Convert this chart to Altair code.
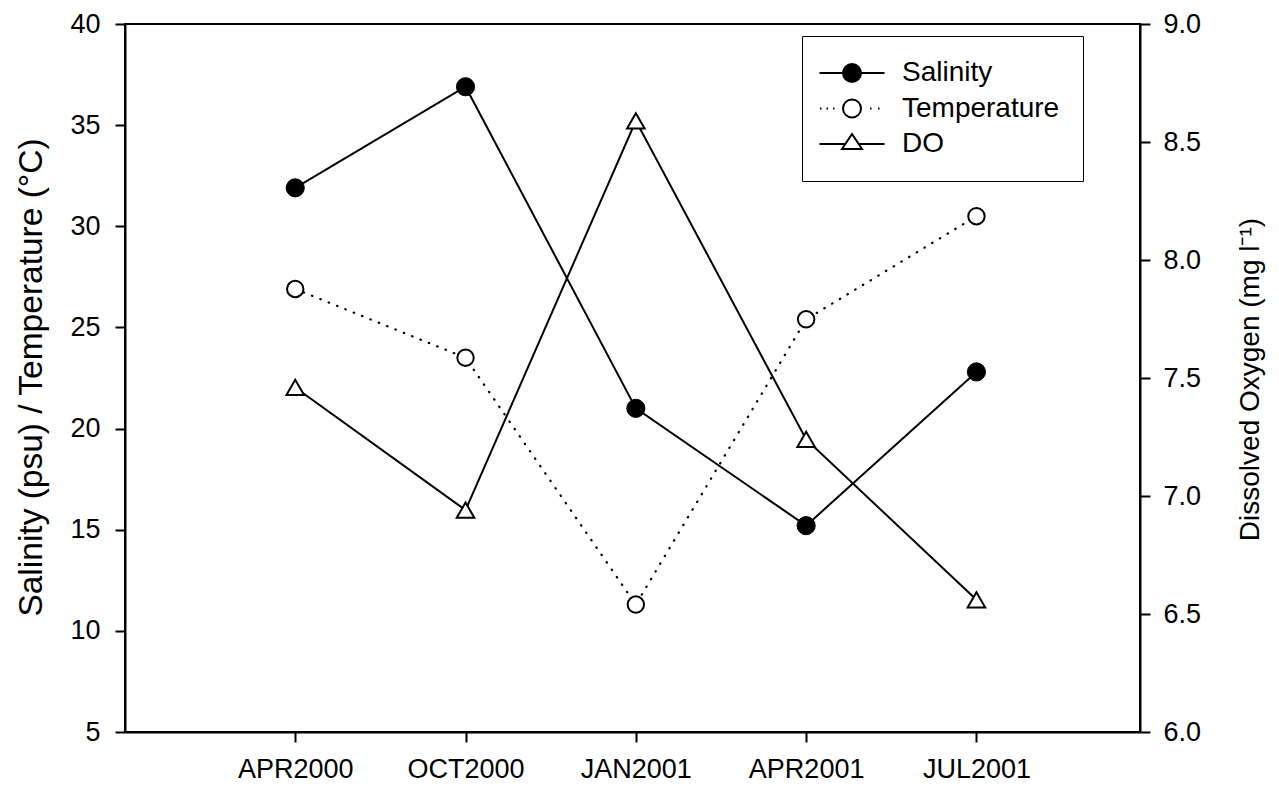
import altair as alt
import pandas as pd

# ---- data ----
categories = ["APR2000", "OCT2000", "JAN2001", "APR2001", "JUL2001"]
salinity = [31.9, 36.9, 21.0, 15.2, 22.8]
temperature = [26.9, 23.5, 11.3, 25.4, 30.5]
dissolved_oxygen = [7.46, 6.94, 8.59, 7.24, 6.56]
series_names = ["Salinity", "Temperature", "DO"]
left_ticks = [5, 10, 15, 20, 25, 30, 35, 40]
right_ticks = [6.0, 6.5, 7.0, 7.5, 8.0, 8.5, 9.0]

FONT = "Liberation Sans"

sal_df = pd.DataFrame({"month": categories, "value": salinity, "series": "Salinity"})
tmp_df = pd.DataFrame({"month": categories, "value": temperature, "series": "Temperature"})
do_df = pd.DataFrame({"month": categories, "value": dissolved_oxygen, "series": "DO"})
legend_df = pd.concat([sal_df, tmp_df], ignore_index=True).iloc[[0, 5, 1]].copy()
legend_df["series"] = series_names

# legend symbols: line through marker (custom SVG paths, unit = sqrt(size)/2 px),
# shifted right so the long symbol sits inside the legend box
SHIFT = 1.3


def sx(v):
    return f"{v + SHIFT:.3f}"


circle = (f"M{sx(-0.9)},0A0.9,0.9,0,1,0,{sx(0.9)},0"
          f"A0.9,0.9,0,1,0,{sx(-0.9)},0Z")
sym_sal = f"M{sx(-3.25)},0L{sx(-0.9)},0M{sx(0.9)},0L{sx(3.25)},0" + circle
sym_tmp = (f"M{sx(-3.2)},0L{sx(-3.05)},0M{sx(-2.55)},0L{sx(-2.4)},0"
           f"M{sx(-1.9)},0L{sx(-1.75)},0M{sx(1.8)},0L{sx(1.95)},0"
           f"M{sx(2.6)},0L{sx(2.75)},0" + circle)
sym_do = (f"M{sx(-3.25)},0L{sx(-0.67)},0M{sx(0.67)},0L{sx(3.25)},0"
          f"M{sx(0)},-1L{sx(1)},0.5L{sx(-1)},0.5Z")

x_enc = alt.X(
    "month:N", sort=categories,
    scale=alt.Scale(type="point", padding=0.98, align=0.51),
    axis=alt.Axis(title=None, labelFont=FONT, labelFontSize=27, labelColor="black",
                  labelAngle=0, tickSize=10, tickWidth=2, tickColor="black",
                  domainColor="black", domainWidth=2, labelPadding=14, grid=False),
)

y_left = alt.Y(
    "value:Q",
    scale=alt.Scale(domain=[5, 40], nice=False, zero=False),
    axis=alt.Axis(values=left_ticks, grid=False, labelFont=FONT, labelFontSize=27,
                  labelColor="black", tickSize=10, tickWidth=2, tickColor="black",
                  domainColor="black", domainWidth=2, labelPadding=15,
                  title="Salinity (psu) / Temperature (°C)", titleFont=FONT,
                  titleFontSize=33.5, titleFontWeight="normal", titleColor="black",
                  titleAngle=270, titleBaseline="alphabetic", titleAlign="center",
                  titleX=-84, titleY=353),
)

y_right = alt.Y(
    "value:Q",
    scale=alt.Scale(domain=[6, 9], nice=False, zero=False),
    axis=alt.Axis(orient="right", values=right_ticks, format=".1f", grid=False,
                  labelFont=FONT, labelFontSize=27, labelColor="black", tickSize=10,
                  tickWidth=2, tickColor="black", domainColor="black", domainWidth=2,
                  labelPadding=13, title="Dissolved Oxygen (mg l⁻¹)", titleFont=FONT,
                  titleFontSize=28, titleFontWeight="normal", titleColor="black",
                  titleAngle=270, titleBaseline="alphabetic", titleAlign="center",
                  titleX=118, titleY=355),
)

legend = alt.Legend(
    title=None, orient="none", legendX=677, legendY=12, padding=23,
    strokeColor="black", fillColor="white", labelFont=FONT, labelFontSize=28,
    labelColor="black", labelOffset=49, rowPadding=7.5, symbolSize=400,
    symbolStrokeColor="black", symbolStrokeWidth=2, symbolOpacity=1,
)

sal_line = alt.Chart(sal_df).mark_line(color="black", strokeWidth=2).encode(x=x_enc, y=y_left)
tmp_line = alt.Chart(tmp_df).mark_line(
    color="black", strokeWidth=2.2, strokeDash=[0.5, 8.5], strokeCap="round"
).encode(x=x_enc, y=y_left)
sal_pts = alt.Chart(sal_df).mark_point(
    shape="circle", filled=True, fill="black", stroke="black", strokeWidth=1,
    size=330, opacity=1
).encode(x=x_enc, y=y_left)
tmp_pts = alt.Chart(tmp_df).mark_point(
    shape="circle", filled=True, fill="white", stroke="black", strokeWidth=2,
    size=270, opacity=1
).encode(x=x_enc, y=y_left)
legend_layer = alt.Chart(legend_df).mark_point(
    opacity=0, filled=True, strokeWidth=2
).encode(
    x=x_enc, y=y_left,
    shape=alt.Shape("series:N", scale=alt.Scale(domain=series_names,
                                                range=[sym_sal, sym_tmp, sym_do]),
                    legend=legend),
    fill=alt.Fill("series:N", scale=alt.Scale(domain=series_names,
                                              range=["black", "white", "white"]),
                  legend=legend),
    stroke=alt.Stroke("series:N", scale=alt.Scale(domain=series_names,
                                                  range=["black", "black", "black"]),
                      legend=legend),
)

do_line = alt.Chart(do_df).mark_line(color="black", strokeWidth=2).encode(x=x_enc, y=y_right)
do_pts = alt.Chart(do_df).mark_point(
    shape="triangle-up", filled=True, fill="white", stroke="black", strokeWidth=2,
    size=310, opacity=1
).encode(x=x_enc, y=y_right)

left = alt.layer(sal_line, tmp_line, sal_pts, tmp_pts, legend_layer)
right = alt.layer(do_line, do_pts)

chart = alt.layer(left, right).resolve_scale(y="independent").properties(
    width=1015, height=708,
    autosize=alt.AutoSizeParams(type="none"),
    padding={"left": 117, "top": 16, "right": 130, "bottom": 51},
    background="white",
).configure_view(stroke="black", strokeWidth=2)

chart.save("out.html", embed_options={"renderer": "svg", "actions": False})
